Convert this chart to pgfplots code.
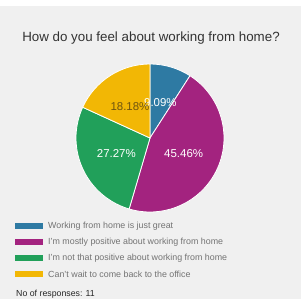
\documentclass[border=0pt]{standalone}
\usepackage{pgfplots}
\usepackage{pgfplotstable}
\pgfplotsset{compat=1.18}
\usepackage{fontspec}
\setmainfont{Liberation Sans}
\definecolor{bgc}{HTML}{F0F0F0}
\definecolor{cA}{HTML}{2E7AA3}
\definecolor{cB}{HTML}{A3237F}
\definecolor{cC}{HTML}{21A05A}
\definecolor{cD}{HTML}{F2B705}
\definecolor{lbl}{HTML}{6E5410}
\pgfplotstableread{
value
9.09
45.46
27.27
18.18
}\piedata
\begin{document}
\begin{tikzpicture}[x=1bp,y=1bp]
\fill[white] (0,0) rectangle (308,303);
\fill[bgc] (0,4) rectangle (301,297);
\node[text=black!80, font=\fontsize{13.4}{15}\selectfont] at (151,303-38) {How do you feel about working from home?};
\pgfplotstablegetelem{0}{value}\of\piedata \let\vA\pgfplotsretval
\pgfplotstablegetelem{1}{value}\of\piedata \let\vB\pgfplotsretval
\pgfplotstablegetelem{2}{value}\of\piedata \let\vC\pgfplotsretval
\pgfplotstablegetelem{3}{value}\of\piedata \let\vD\pgfplotsretval
\pgfmathsetmacro{\aA}{90}
\pgfmathsetmacro{\aB}{\aA-3.6*\vA}
\pgfmathsetmacro{\aC}{\aB-3.6*\vB}
\pgfmathsetmacro{\aD}{\aC-3.6*\vC}
\pgfmathsetmacro{\aE}{\aD-3.6*\vD}
\begin{axis}[at={(150bp,165bp)}, anchor=center, width=148bp, height=148bp,
  scale only axis, hide axis, xmin=-1, xmax=1, ymin=-1, ymax=1, clip=false]
\fill[cA, draw=white, line width=0.8bp] (axis cs:0,0) -- (axis cs:{cos(\aA)},{sin(\aA)}) arc[start angle=\aA, end angle=\aB, radius=74bp] -- cycle;
\fill[cB, draw=white, line width=0.8bp] (axis cs:0,0) -- (axis cs:{cos(\aB)},{sin(\aB)}) arc[start angle=\aB, end angle=\aC, radius=74bp] -- cycle;
\fill[cC, draw=white, line width=0.8bp] (axis cs:0,0) -- (axis cs:{cos(\aC)},{sin(\aC)}) arc[start angle=\aC, end angle=\aD, radius=74bp] -- cycle;
\fill[cD, draw=white, line width=0.8bp] (axis cs:0,0) -- (axis cs:{cos(\aD)},{sin(\aD)}) arc[start angle=\aD, end angle=\aE, radius=74bp] -- cycle;
\node[text=white, font=\fontsize{11.5}{13}\selectfont] at (axis cs:{0.5*cos((\aA+\aB)/2)},{0.5*sin((\aA+\aB)/2)}) {9.09\%};
\node[text=white, font=\fontsize{11.5}{13}\selectfont] at (axis cs:{0.5*cos((\aB+\aC)/2)},{0.5*sin((\aB+\aC)/2)}) {45.46\%};
\node[text=white, font=\fontsize{11.5}{13}\selectfont] at (axis cs:{0.5*cos((\aC+\aD)/2)},{0.5*sin((\aC+\aD)/2)}) {27.27\%};
\node[text=lbl, font=\fontsize{11.5}{13}\selectfont] at (axis cs:{0.5*cos((\aD+\aE)/2)},{0.5*sin((\aD+\aE)/2)}) {18.18\%};
\end{axis}
\foreach \c/\yy/\t in {cA/226.5/{Working from home is just great},
  cB/242.5/{I'm mostly positive about working from home},
  cC/258.5/{I'm not that positive about working from home},
  cD/274.5/{Can't wait to come back to the office}}{
  \fill[\c] (15,303-\yy-3) rectangle (43,303-\yy+3);
  \node[anchor=west, inner sep=0, text=black!55, font=\fontsize{8.9}{10}\selectfont] at (48,303-\yy) {\t};
}
\node[anchor=west, inner sep=0, text=black!85, font=\fontsize{8.8}{10}\selectfont] at (16,303-294) {No of responses: 11};
\end{tikzpicture}
\end{document}
